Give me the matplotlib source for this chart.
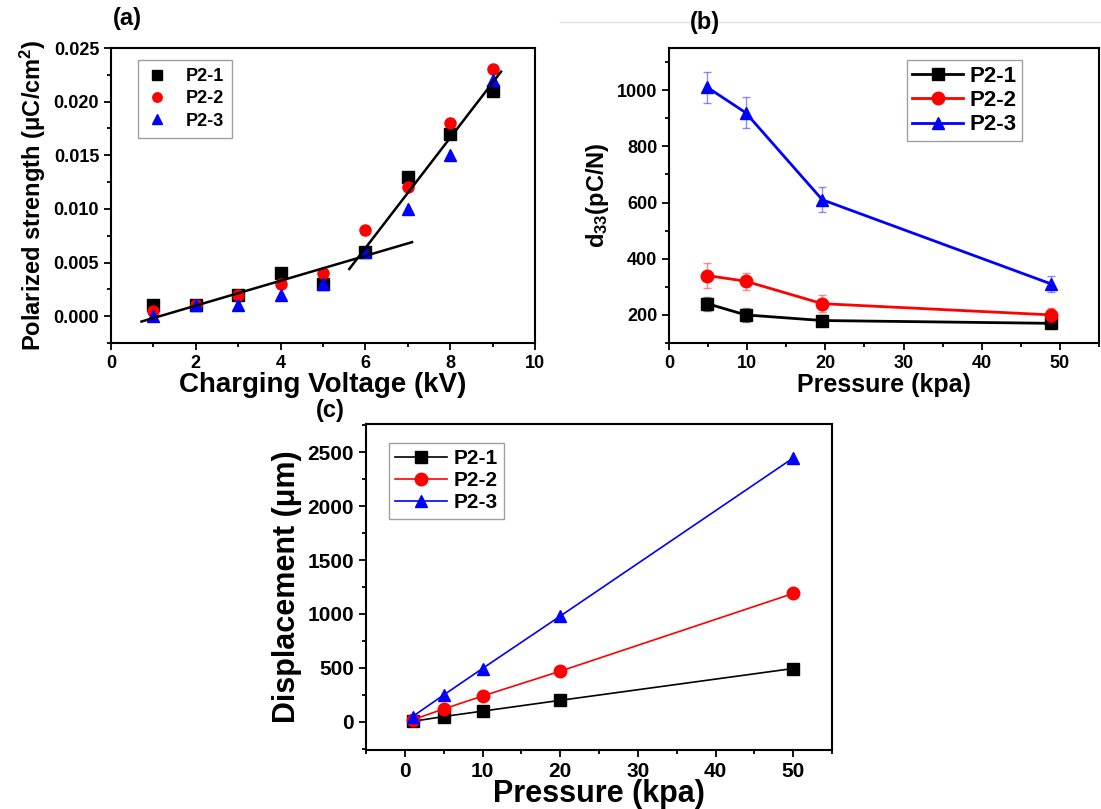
import matplotlib.pyplot as plt
from matplotlib.ticker import MultipleLocator, FormatStrFormatter
from matplotlib.lines import Line2D

plt.rcParams['font.family'] = ['Liberation Sans', 'DejaVu Sans']
plt.rcParams['font.weight'] = 'bold'
plt.rcParams['axes.labelweight'] = 'bold'
plt.rcParams['mathtext.fontset'] = 'custom'
plt.rcParams['mathtext.rm'] = 'Liberation Sans:bold'
plt.rcParams['mathtext.it'] = 'Liberation Sans:bold'
plt.rcParams['mathtext.bf'] = 'Liberation Sans:bold'

# ---- (a) polarized strength vs charging voltage ----
volt = [1, 2, 3, 4, 5, 6, 7, 8, 9]
pol_p21 = [0.001, 0.001, 0.002, 0.004, 0.003, 0.006, 0.013, 0.017, 0.021]
pol_p22 = [0.0005, 0.001, 0.002, 0.003, 0.004, 0.008, 0.012, 0.018, 0.023]
pol_p23 = [0.0, 0.001, 0.001, 0.002, 0.003, 0.006, 0.010, 0.015, 0.022]
fit_low_x = [0.72, 7.1]
fit_low_y = [-0.0005, 0.0069]
fit_high_x = [5.62, 9.2]
fit_high_y = [0.0044, 0.0228]

# ---- (b) d33 vs pressure ----
press_b = [4.9, 9.8, 19.6, 48.9]
d33_p21 = [240, 200, 180, 170]
d33_p22 = [340, 320, 240, 200]
d33_p23 = [1010, 920, 610, 310]
err_p21 = [25, 25, 20, 12]
err_p22 = [45, 30, 30, 25]
err_p23 = [55, 55, 45, 30]

# ---- (c) displacement vs pressure ----
press_c = [1, 5, 10, 20, 50]
disp_p21 = [5, 50, 100, 200, 495]
disp_p22 = [20, 120, 240, 470, 1190]
disp_p23 = [50, 250, 495, 980, 2445]

labels = ['P2-1', 'P2-2', 'P2-3']
colors = ['black', 'red', 'blue']
markers = ['s', 'o', '^']

W, H = 1101, 809
fig = plt.figure(figsize=(W / 100, H / 100), dpi=100)


def px_axes(left, top, right, bottom):
    return fig.add_axes([left / W, 1 - bottom / H, (right - left) / W, (bottom - top) / H])


def style_axes(ax, size):
    for s in ax.spines.values():
        s.set_linewidth(1.5)
    ax.tick_params(which='both', direction='out', top=False, right=False, width=1.3)
    ax.tick_params(which='major', length=5, labelsize=size)
    ax.tick_params(which='minor', length=3)
    for lab in ax.get_xticklabels() + ax.get_yticklabels():
        lab.set_fontweight('bold')


# (a)
ax1 = px_axes(111, 48, 535, 343)
for y, lab, c, m in zip([pol_p21, pol_p22, pol_p23], labels, colors, markers):
    ax1.plot(volt, y, linestyle='none', marker=m, color=c, markersize=8, label=lab)
ax1.plot(fit_low_x, fit_low_y, color='black', lw=1.8)
ax1.plot(fit_high_x, fit_high_y, color='black', lw=1.8)
ax1.set_xlim(0, 10)
ax1.set_ylim(-0.0025, 0.025)
ax1.xaxis.set_major_locator(MultipleLocator(2))
ax1.xaxis.set_minor_locator(MultipleLocator(1))
ax1.yaxis.set_major_locator(MultipleLocator(0.005))
ax1.yaxis.set_minor_locator(MultipleLocator(0.0025))
ax1.yaxis.set_major_formatter(FormatStrFormatter('%.3f'))
style_axes(ax1, 13)
ax1.set_xlabel('Charging Voltage (kV)', fontsize=20, labelpad=0)
ax1.set_ylabel('Polarized strength (μC/cm$^{2}$)', fontsize=17, labelpad=4)
ax1.legend(loc='upper left', bbox_to_anchor=(0.064, 0.96), prop={'size': 13, 'weight': 'bold'},
           fancybox=False, edgecolor='#888888', handlelength=1.2, handletextpad=1.0,
           borderpad=0.45, labelspacing=0.3, borderaxespad=0, markerscale=0.85)
fig.text(113 / W, 1 - 19 / H, '(a)', fontsize=17, fontweight='bold', va='center')

# (b)
ax2 = px_axes(669, 48, 1099, 343)
for y, e, lab, c, m in zip([d33_p21, d33_p22, d33_p23], [err_p21, err_p22, err_p23],
                           labels, colors, markers):
    ax2.errorbar(press_b, y, yerr=e, fmt='none', ecolor=c, elinewidth=1,
                 capsize=3, capthick=1, alpha=0.45)
    ax2.plot(press_b, y, color=c, marker=m, markersize=9, lw=2, label=lab)
ax2.set_xlim(0, 55)
ax2.set_ylim(100, 1150)
ax2.xaxis.set_major_locator(MultipleLocator(10))
ax2.xaxis.set_minor_locator(MultipleLocator(5))
ax2.yaxis.set_major_locator(MultipleLocator(200))
ax2.yaxis.set_minor_locator(MultipleLocator(100))
style_axes(ax2, 13)
ax2.set_xlabel('Pressure (kpa)', fontsize=18, labelpad=1)
ax2.set_ylabel('d$_{33}$(pC/N)', fontsize=17, labelpad=4)
ax2.legend(loc='upper right', bbox_to_anchor=(0.822, 0.959), prop={'size': 16, 'weight': 'bold'},
           fancybox=False, edgecolor='#888888', handlelength=2.3, handletextpad=0.3,
           borderpad=0.25, labelspacing=0.15, borderaxespad=0)
fig.text(690 / W, 1 - 22 / H, '(b)', fontsize=17, fontweight='bold', va='center')
fig.add_artist(Line2D([560 / W, 1], [1 - 22 / H, 1 - 22 / H], color='#e4e4e4', lw=1))

# (c)
ax3 = px_axes(366, 424, 832, 750)
for y, lab, c, m in zip([disp_p21, disp_p22, disp_p23], labels, colors, markers):
    ax3.plot(press_c, y, color=c, marker=m, markersize=9, lw=1.2, label=lab)
ax3.set_xlim(-5, 55)
ax3.set_ylim(-260, 2760)
ax3.xaxis.set_major_locator(MultipleLocator(10))
ax3.xaxis.set_minor_locator(MultipleLocator(5))
ax3.yaxis.set_major_locator(MultipleLocator(500))
ax3.yaxis.set_minor_locator(MultipleLocator(250))
style_axes(ax3, 15)
ax3.set_xlabel('Pressure (kpa)', fontsize=22, labelpad=-1)
ax3.set_ylabel('Displacement (μm)', fontsize=22, labelpad=4)
ax3.legend(loc='upper left', bbox_to_anchor=(0.049, 0.942), prop={'size': 15, 'weight': 'bold'},
           fancybox=False, edgecolor='#888888', handlelength=2.5, handletextpad=0.3,
           borderpad=0.3, labelspacing=0.15, borderaxespad=0)
fig.text(316 / W, 1 - 411 / H, '(c)', fontsize=17, fontweight='bold', va='center')

fig.savefig('out.png', dpi=100)
